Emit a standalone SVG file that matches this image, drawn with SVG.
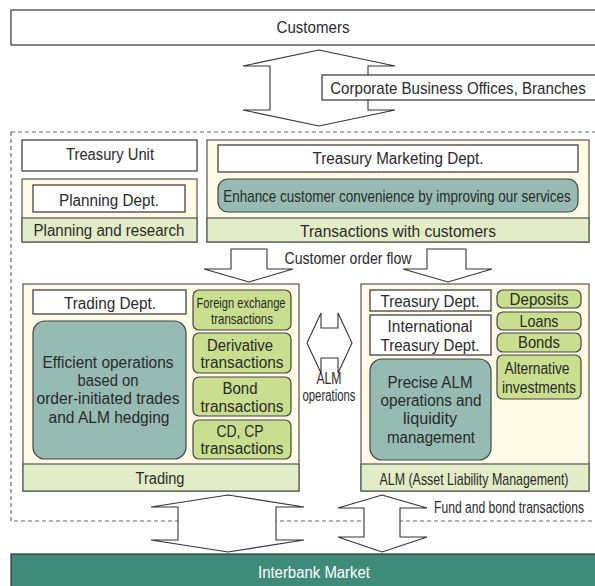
<svg xmlns="http://www.w3.org/2000/svg" width="595" height="586" viewBox="0 0 595 586">
<style>
text{font-family:"Liberation Sans",Arial,sans-serif;fill:#2a2a2a;text-anchor:middle}
.t16{font-size:16px}
.t17{font-size:16px}
.t14{font-size:14px}
.white{fill:#fff;stroke:#333;stroke-width:1.2}
.outer{fill:#fefae6;stroke:#555;stroke-width:1.2}
.band{fill:#e2ecc6;stroke:#555;stroke-width:1.2}
.green{fill:#c9de8e;stroke:#444;stroke-width:1.2}
.teal{fill:#96bbb2;stroke:#444;stroke-width:1.2}
.arrow{fill:#fff;stroke:#333;stroke-width:1.1}
.dash{fill:none;stroke:#666;stroke-width:1.2;stroke-dasharray:4 3}
</style>

<rect class="dash" x="11" y="132" width="600" height="389"/>

<g id="customers">
<rect class="white" x="11" y="10" width="600" height="35"/>
<text class="t16" x="313" y="33" textLength="73" lengthAdjust="spacingAndGlyphs">Customers</text>
</g>

<g id="connectors">
<polygon class="arrow" points="319,50 395,66 368,66 368,110 395,110 319,126 243,110 270,110 270,66 243,66"/>
<polygon class="arrow" points="231,249 267,249 267,269 293,269 249,282 204,269 231,269"/>
<polygon class="arrow" points="427,249 466,249 466,269 492,269 448,282 403,269 427,269"/>
<polygon class="arrow" points="307,343 321,313 321,328 338,328 338,313 352,343 338,373 338,358 321,358 321,373"/>
<polygon class="arrow" points="228,495 304,507 276,507 276,540 304,540 228,552 151,540 178,540 178,507 151,507"/>
<polygon class="arrow" points="382,495 427,508 400,508 400,537 427,537 382,552 338,537 364,537 364,508 338,508"/>
<text class="t16" x="348" y="264" textLength="127" lengthAdjust="spacingAndGlyphs">Customer order flow</text>
<text class="t16" x="329" y="384" textLength="25" lengthAdjust="spacingAndGlyphs">ALM</text>
<text class="t16" x="329" y="401" textLength="53" lengthAdjust="spacingAndGlyphs">operations</text>
<text class="t16" transform="translate(509,513) scale(0.756,1)" x="0" y="0">Fund and bond transactions</text>
</g>

<g id="corporate">
<rect class="white" x="322" y="75" width="290" height="25"/>
<text class="t16" transform="translate(458,94) scale(0.944,1)" x="0" y="0">Corporate Business Offices, Branches</text>
</g>

<g id="treasury-unit">
<rect class="white" x="22" y="140" width="175" height="31"/>
<text class="t16" x="110" y="160" textLength="88" lengthAdjust="spacingAndGlyphs">Treasury Unit</text>
</g>

<g id="planning">
<rect class="outer" x="22" y="179" width="175" height="63"/>
<rect class="band" x="22" y="218" width="175" height="24"/>
<rect class="white" x="33" y="185" width="152" height="27"/>
<text class="t16" x="109" y="206" textLength="100" lengthAdjust="spacingAndGlyphs">Planning Dept.</text>
<text class="t16" x="109" y="236" textLength="151" lengthAdjust="spacingAndGlyphs">Planning and research</text>
</g>

<g id="marketing">
<rect class="outer" x="207" y="140" width="382" height="102"/>
<rect class="band" x="207" y="218" width="382" height="24"/>
<rect class="white" x="218" y="145" width="360" height="27"/>
<text class="t16" x="398" y="164" textLength="171" lengthAdjust="spacingAndGlyphs">Treasury Marketing Dept.</text>
<rect class="teal" x="218" y="179" width="360" height="33" rx="10"/>
<text class="t16" transform="translate(397,202) scale(0.8416,1)" x="0" y="0">Enhance customer convenience by improving our services</text>
<text class="t16" x="398" y="237" textLength="196" lengthAdjust="spacingAndGlyphs">Transactions with customers</text>
</g>

<g id="trading">
<rect class="outer" x="23" y="284" width="276" height="207"/>
<rect class="band" x="23" y="464" width="276" height="27"/>
<rect class="white" x="33" y="290" width="153" height="24"/>
<text class="t16" x="110" y="309" textLength="92" lengthAdjust="spacingAndGlyphs">Trading Dept.</text>
<rect class="teal" x="33" y="321" width="153" height="138" rx="12"/>
<text class="t17" x="108" y="368" textLength="131" lengthAdjust="spacingAndGlyphs">Efficient operations</text>
<text class="t17" x="108" y="386" textLength="61" lengthAdjust="spacingAndGlyphs">based on</text>
<text class="t17" x="108" y="404" textLength="143" lengthAdjust="spacingAndGlyphs">order-initiated trades</text>
<text class="t17" x="109" y="423" textLength="121" lengthAdjust="spacingAndGlyphs">and ALM hedging</text>
<rect class="green" x="193" y="290" width="98" height="40" rx="6"/>
<text class="t14" x="241" y="308" textLength="89" lengthAdjust="spacingAndGlyphs">Foreign exchange</text>
<text class="t14" x="242" y="324" textLength="62" lengthAdjust="spacingAndGlyphs">transactions</text>
<rect class="green" x="193" y="333" width="98" height="40" rx="6"/>
<text class="t17" x="240" y="351" textLength="66" lengthAdjust="spacingAndGlyphs">Derivative</text>
<text class="t17" x="242" y="368" textLength="83" lengthAdjust="spacingAndGlyphs">transactions</text>
<rect class="green" x="193" y="377" width="98" height="39" rx="6"/>
<text class="t17" x="240" y="394" textLength="35" lengthAdjust="spacingAndGlyphs">Bond</text>
<text class="t17" x="242" y="412" textLength="83" lengthAdjust="spacingAndGlyphs">transactions</text>
<rect class="green" x="193" y="420" width="98" height="39" rx="6"/>
<text class="t17" x="240" y="437" textLength="47" lengthAdjust="spacingAndGlyphs">CD, CP</text>
<text class="t17" x="242" y="454" textLength="83" lengthAdjust="spacingAndGlyphs">transactions</text>
<text class="t16" x="160" y="484" textLength="49" lengthAdjust="spacingAndGlyphs">Trading</text>
</g>

<g id="alm">
<rect class="outer" x="361" y="284" width="228" height="207"/>
<rect class="band" x="361" y="464" width="228" height="27"/>
<rect class="white" x="370" y="290" width="121" height="21"/>
<text class="t16" x="430" y="307" textLength="99" lengthAdjust="spacingAndGlyphs">Treasury Dept.</text>
<rect class="white" x="370" y="315" width="121" height="40"/>
<text class="t16" x="430" y="332" textLength="85" lengthAdjust="spacingAndGlyphs">International</text>
<text class="t16" x="430" y="351" textLength="99" lengthAdjust="spacingAndGlyphs">Treasury Dept.</text>
<rect class="teal" x="370" y="359" width="121" height="101" rx="12"/>
<text class="t17" x="430" y="388" textLength="85" lengthAdjust="spacingAndGlyphs">Precise ALM</text>
<text class="t17" x="431" y="406" textLength="101" lengthAdjust="spacingAndGlyphs">operations and</text>
<text class="t17" x="430" y="424" textLength="54" lengthAdjust="spacingAndGlyphs">liquidity</text>
<text class="t17" x="431" y="443" textLength="88" lengthAdjust="spacingAndGlyphs">management</text>
<rect class="green" x="497" y="290" width="84" height="18" rx="6"/>
<text class="t16" x="539" y="305" textLength="59" lengthAdjust="spacingAndGlyphs">Deposits</text>
<rect class="green" x="497" y="312" width="84" height="18" rx="6"/>
<text class="t16" x="539" y="327" textLength="39" lengthAdjust="spacingAndGlyphs">Loans</text>
<rect class="green" x="497" y="333" width="84" height="19" rx="6"/>
<text class="t16" x="539" y="348" textLength="42" lengthAdjust="spacingAndGlyphs">Bonds</text>
<rect class="green" x="497" y="355" width="84" height="44" rx="6"/>
<text class="t16" x="537" y="374" textLength="65" lengthAdjust="spacingAndGlyphs">Alternative</text>
<text class="t16" x="539" y="393" textLength="74" lengthAdjust="spacingAndGlyphs">investments</text>
<text class="t16" transform="translate(474,485) scale(0.776,1)" x="0" y="0">ALM (Asset Liability Management)</text>
</g>

<g id="interbank">
<rect x="11" y="554" width="600" height="40" fill="#3f8b79" stroke="#333" stroke-width="1.2"/>
<text class="t16" x="314" y="578" style="fill:#fff" textLength="112" lengthAdjust="spacingAndGlyphs">Interbank Market</text>
</g>
</svg>
